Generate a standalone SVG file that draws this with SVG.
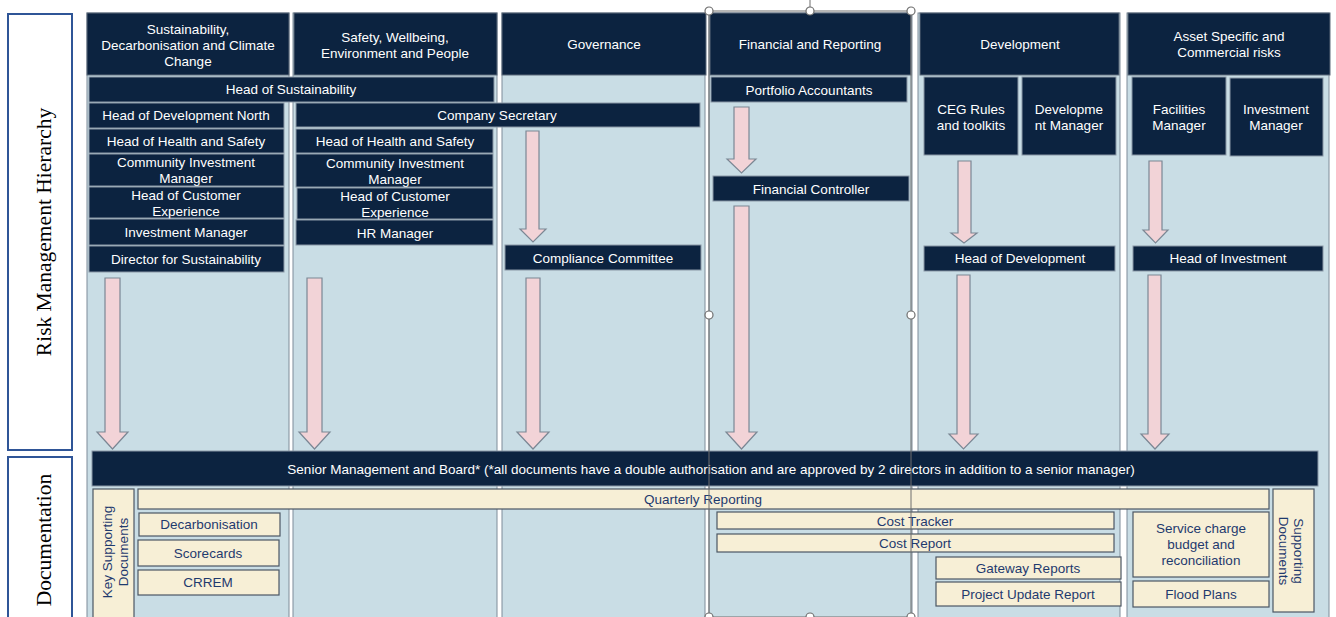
<svg xmlns="http://www.w3.org/2000/svg" width="1336" height="617" viewBox="0 0 1336 617">
<style>
.col{fill:#c9dde5;stroke:#7f8c99;stroke-width:1}
.hdr{fill:#0c2340;stroke:#5d6b7a;stroke-width:1}
.box{fill:#0c2340;stroke:#8a98a6;stroke-width:1}
.doc{fill:#f7efd6;stroke:#4b5663;stroke-width:1.2}
.side{fill:#ffffff;stroke:#2f5597;stroke-width:2}
.w{font-family:"Liberation Sans",Arial,sans-serif;font-size:13.5px;fill:#ffffff;text-anchor:middle}
.d{font-family:"Liberation Sans",Arial,sans-serif;font-size:13.5px;fill:#1f3a6e;text-anchor:middle}
.s{font-family:"Liberation Serif","Times New Roman",serif;font-size:21.5px;fill:#000000;text-anchor:middle}
.arr{fill:#f2d3d7;stroke:#7b8794;stroke-width:1.2}
.sel{fill:none;stroke:#6e6e6e;stroke-width:1}
.hd{fill:#ffffff;stroke:#6e6e6e;stroke-width:1.2}
</style>
<rect width="1336" height="617" fill="#ffffff"/>

<g id="label-risk"><rect class="side" x="8" y="14" width="64" height="436"/><text class="s" transform="translate(51,232) rotate(-90)">Risk Management Hierarchy</text></g>
<g id="label-doc"><rect class="side" x="8" y="457" width="64" height="165"/><text class="s" transform="translate(51,540) rotate(-90)">Documentation</text></g>

<g id="col1"><rect class="col" x="87" y="13" width="202" height="610"/><rect class="hdr" x="87" y="13" width="202" height="62"/><text class="w" x="188" y="33.5">Sustainability,</text><text class="w" x="188" y="49.5">Decarbonisation and Climate</text><text class="w" x="188" y="65.5">Change</text></g>
<g id="col2"><rect class="col" x="293" y="13" width="204" height="610"/><rect class="hdr" x="294" y="13" width="203" height="62"/><text class="w" x="395" y="41.5">Safety, Wellbeing,</text><text class="w" x="395" y="57.5">Environment and People</text></g>
<g id="col3"><rect class="col" x="502" y="13" width="203" height="610"/><rect class="hdr" x="502" y="13" width="204" height="62"/><text class="w" x="604" y="48.5">Governance</text></g>
<g id="col4"><rect class="col" x="709" y="13" width="203" height="610"/><rect class="hdr" x="710" y="13" width="201" height="62"/><text class="w" x="810" y="48.5">Financial and Reporting</text></g>
<g id="col5"><rect class="col" x="918" y="13" width="202" height="610"/><rect class="hdr" x="920" y="13" width="199" height="62"/><text class="w" x="1020" y="48.5">Development</text></g>
<g id="col6"><rect class="col" x="1127" y="13" width="202" height="610"/><rect class="hdr" x="1128" y="13" width="202" height="62"/><text class="w" x="1229" y="40.5">Asset Specific and</text><text class="w" x="1229" y="56.5">Commercial risks</text></g>

<g id="head-sustainability"><rect class="box" x="89" y="77" width="405" height="25"/><text class="w" x="291" y="94">Head of Sustainability</text></g>
<g id="head-dev-north"><rect class="box" x="89" y="103" width="195" height="25"/><text class="w" x="186" y="120">Head of Development North</text></g>
<g id="company-secretary"><rect class="box" x="296" y="103" width="404" height="24"/><text class="w" x="497" y="120">Company Secretary</text></g>
<g id="hhs-1"><rect class="box" x="89" y="129" width="195" height="24"/><text class="w" x="186" y="145.5">Head of Health and Safety</text></g>
<g id="hhs-2"><rect class="box" x="296" y="129" width="197" height="24"/><text class="w" x="395" y="145.5">Head of Health and Safety</text></g>
<g id="cim-1"><rect class="box" x="89" y="154" width="195" height="32"/><text class="w" x="186" y="166.5">Community Investment</text><text class="w" x="186" y="182.5">Manager</text></g>
<g id="cim-2"><rect class="box" x="296" y="154" width="197" height="33"/><text class="w" x="395" y="167.5">Community Investment</text><text class="w" x="395" y="183.5">Manager</text></g>
<g id="hce-1"><rect class="box" x="89" y="187" width="195" height="31"/><text class="w" x="186" y="199.5">Head of Customer</text><text class="w" x="186" y="215.5">Experience</text></g>
<g id="hce-2"><rect class="box" x="297" y="188" width="196" height="31"/><text class="w" x="395" y="200.5">Head of Customer</text><text class="w" x="395" y="216.5">Experience</text></g>
<g id="investment-manager-1"><rect class="box" x="89" y="219" width="195" height="26"/><text class="w" x="186" y="237">Investment Manager</text></g>
<g id="hr-manager"><rect class="box" x="296" y="220" width="197" height="25"/><text class="w" x="395" y="238">HR Manager</text></g>
<g id="director-sustainability"><rect class="box" x="89" y="246" width="195" height="26"/><text class="w" x="186" y="264">Director for Sustainability</text></g>
<g id="compliance-committee"><rect class="box" x="505" y="245" width="196" height="25"/><text class="w" x="603" y="262.5">Compliance Committee</text></g>
<g id="portfolio-accountants"><rect class="box" x="711" y="77" width="196" height="25"/><text class="w" x="809" y="94.5">Portfolio Accountants</text></g>
<g id="financial-controller"><rect class="box" x="713" y="176" width="196" height="25"/><text class="w" x="811" y="193.5">Financial Controller</text></g>
<g id="ceg-rules"><rect class="box" x="924" y="77" width="94" height="78"/><text class="w" x="971" y="113.5">CEG Rules</text><text class="w" x="971" y="129.5">and toolkits</text></g>
<g id="development-manager"><rect class="box" x="1022" y="77" width="94" height="78"/><text class="w" x="1069" y="113.5">Developme</text><text class="w" x="1069" y="129.5">nt Manager</text></g>
<g id="head-development"><rect class="box" x="924" y="246" width="191" height="25"/><text class="w" x="1020" y="263">Head of Development</text></g>
<g id="facilities-manager"><rect class="box" x="1132" y="77" width="94" height="78"/><text class="w" x="1179" y="113.5">Facilities</text><text class="w" x="1179" y="129.5">Manager</text></g>
<g id="investment-manager-2"><rect class="box" x="1230" y="78" width="93" height="78"/><text class="w" x="1276" y="113.5">Investment</text><text class="w" x="1276" y="129.5">Manager</text></g>
<g id="head-investment"><rect class="box" x="1133" y="246" width="190" height="25"/><text class="w" x="1228" y="263">Head of Investment</text></g>

<g id="connectors">
<path class="arr" d="M105 278 H120 V432 H128 L112.5 449 L97 432 H105 Z"/>
<path class="arr" d="M307 278 H322 V432 H330 L314.5 449 L299 432 H307 Z"/>
<path class="arr" d="M526 131 H539 V229 H546 L533 242 L520 229 H526 Z"/>
<path class="arr" d="M526 278 H540 V432 H549 L533 449 L517 432 H526 Z"/>
<path class="arr" d="M734 107 H749 V159 H756 L741.5 173 L727 159 H734 Z"/>
<path class="arr" d="M734 206 H749 V432 H757 L741.5 449 L726 432 H734 Z"/>
<path class="arr" d="M958 161 H971 V233 H977 L964 243 L951 233 H958 Z"/>
<path class="arr" d="M957 275 H970 V434 H978 L963.5 449 L949 434 H957 Z"/>
<path class="arr" d="M1149 161 H1162 V230 H1168 L1155.5 243 L1143 230 H1149 Z"/>
<path class="arr" d="M1148 275 H1161 V434 H1169 L1155 449 L1141 434 H1148 Z"/>
</g>

<g id="senior-management"><rect class="box" x="92" y="451" width="1226" height="35" stroke="#0c2340"/><text class="w" x="711" y="473.5">Senior Management and Board* (*all documents have a double authorisation and are approved by 2 directors in addition to a senior manager)</text></g>

<g id="quarterly-reporting"><rect class="doc" x="138" y="489" width="1131" height="20"/><text class="d" x="703" y="503.5">Quarterly Reporting</text></g>
<g id="key-supporting"><rect class="doc" x="93" y="489" width="41" height="132"/><text class="d" transform="translate(112,552) rotate(-90)">Key Supporting</text><text class="d" transform="translate(128,552) rotate(-90)">Documents</text></g>
<g id="decarbonisation"><rect class="doc" x="139" y="513" width="141" height="23"/><text class="d" x="209" y="529">Decarbonisation</text></g>
<g id="scorecards"><rect class="doc" x="138" y="540" width="141" height="26"/><text class="d" x="208" y="557.5">Scorecards</text></g>
<g id="crrem"><rect class="doc" x="138" y="570" width="141" height="25"/><text class="d" x="208" y="587">CRREM</text></g>
<g id="cost-tracker"><rect class="doc" x="717" y="512" width="397" height="17"/><text class="d" x="915" y="525.5">Cost Tracker</text></g>
<g id="cost-report"><rect class="doc" x="717" y="534" width="397" height="18"/><text class="d" x="915" y="547.5">Cost Report</text></g>
<g id="gateway-reports"><rect class="doc" x="936" y="557" width="185" height="22"/><text class="d" x="1028" y="572.5">Gateway Reports</text></g>
<g id="project-update"><rect class="doc" x="936" y="582" width="185" height="24"/><text class="d" x="1028" y="599">Project Update Report</text></g>
<g id="service-charge"><rect class="doc" x="1133" y="512" width="136" height="65"/><text class="d" x="1201" y="533">Service charge</text><text class="d" x="1201" y="549">budget and</text><text class="d" x="1201" y="565">reconciliation</text></g>
<g id="flood-plans"><rect class="doc" x="1133" y="581" width="136" height="26"/><text class="d" x="1201" y="598.5">Flood Plans</text></g>
<g id="supporting-documents"><rect class="doc" x="1273" y="489" width="41" height="123"/><text class="d" transform="translate(1294,551) rotate(90)">Supporting</text><text class="d" transform="translate(1279,551) rotate(90)">Documents</text></g>

<g id="selection">
<line class="sel" x1="810" y1="0" x2="810" y2="11"/>
<rect class="sel" x="709" y="11" width="202" height="606"/>
<circle class="hd" cx="709" cy="11" r="4"/><circle class="hd" cx="810" cy="11" r="4"/><circle class="hd" cx="911" cy="11" r="4"/>
<circle class="hd" cx="709" cy="315" r="4"/><circle class="hd" cx="911" cy="315" r="4"/>
<circle class="hd" cx="709" cy="617" r="4"/><circle class="hd" cx="810" cy="617" r="4"/><circle class="hd" cx="911" cy="617" r="4"/>
</g>
</svg>
